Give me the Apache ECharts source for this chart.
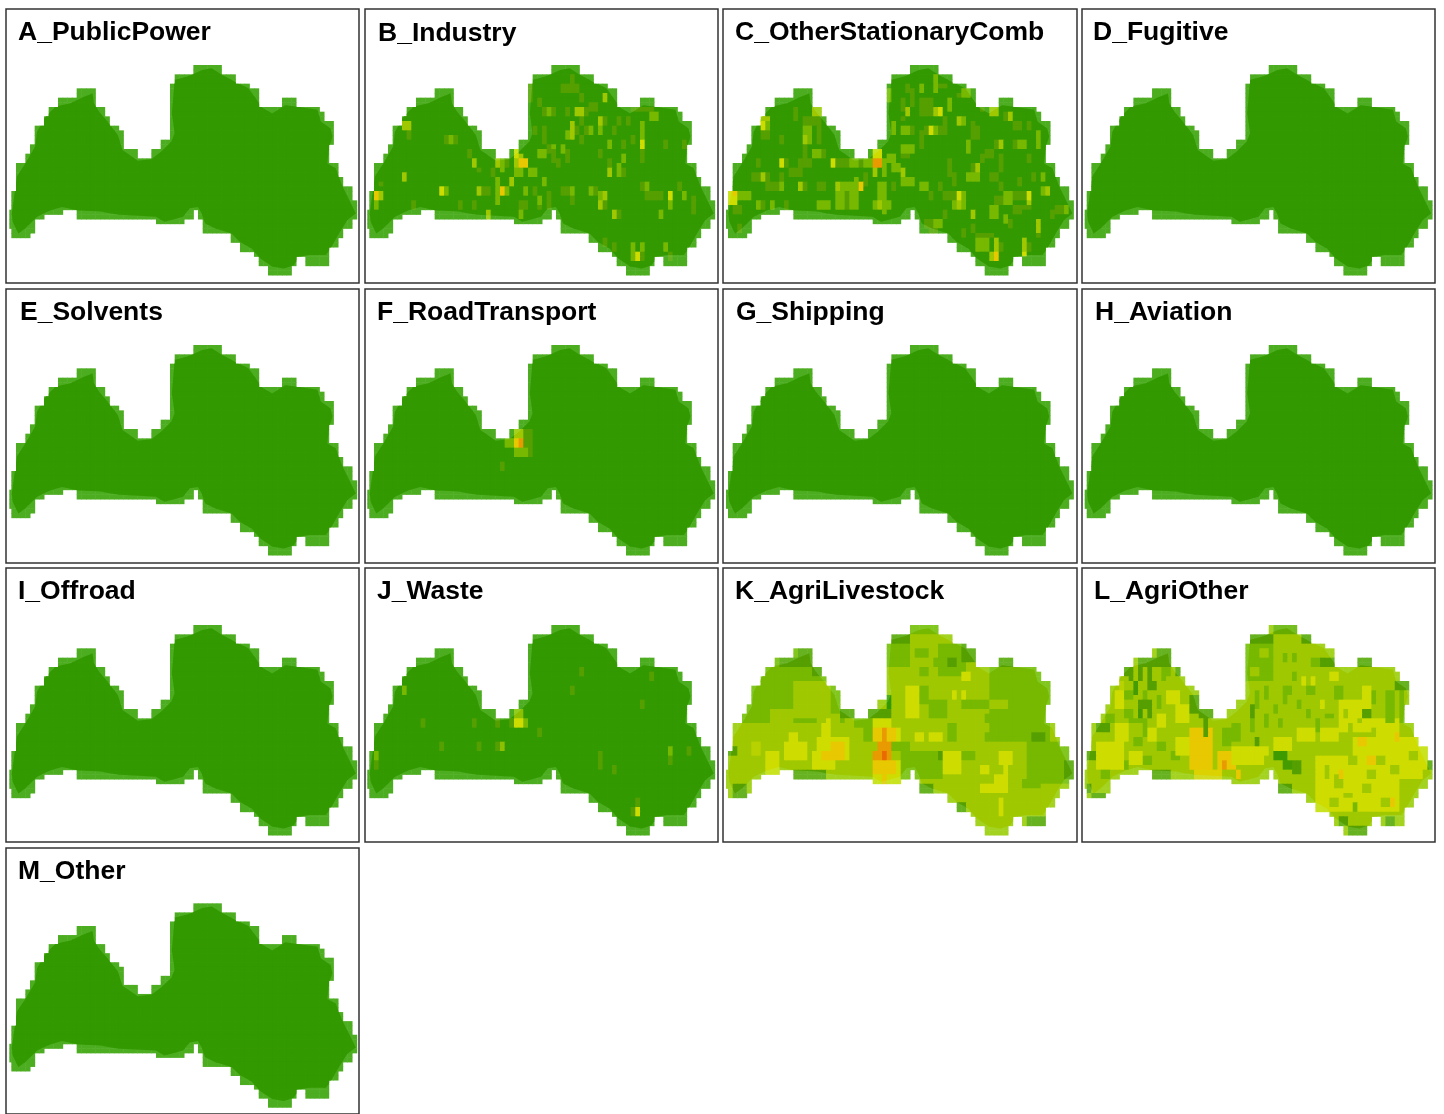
<!DOCTYPE html>
<html><head><meta charset="utf-8">
<style>html,body{margin:0;padding:0;background:#fff;overflow:hidden}#c{width:1444px;height:1114px;filter:blur(.35px)}</style>
<script src="https://cdn.jsdelivr.net/npm/echarts@6/dist/echarts.min.js"></script>
</head><body><div id="c"></div>
<script>
// ---------- data (grid cells: column, row; level: emission class 0..7) ----------
const panelNames = ['A_PublicPower','B_Industry','C_OtherStationaryComb','D_Fugitive','E_Solvents','F_RoadTransport','G_Shipping','H_Aviation','I_Offroad','J_Waste','K_AgriLivestock','L_AgriOther','M_Other'];
const levelColors = ['#339900','#559f00','#77b800','#a0c800','#cfdc00','#e8c800','#e89a00','#e86a00'];
// occupied grid columns, one list of [from,to) spans per row
const landSpans = [
[[40,46]],[[40,46]],[[36,49]],[[36,49]],[[35,52]],[[15,19],[35,54]],[[15,19],[35,54]],
[[11,19],[35,54],[59,62]],[[11,19],[35,54],[59,62]],[[9,21],[35,67]],[[9,21],[35,68]],[[8,22],[35,68]],
[[8,22],[35,70]],[[6,24],[35,70]],[[6,25],[35,70]],[[6,25],[35,70]],[[6,25],[33,70]],[[5,25],[33,69]],
[[5,28],[31,69]],[[4,28],[31,69]],[[4,69]],[[2,71]],[[2,71]],[[2,71]],[[2,72]],[[2,72]],[[2,74]],
[[1,74]],[[1,74]],[[1,75]],[[1,75]],[[0,12],[15,40],[41,75]],[[0,8],[15,40],[41,75]],
[[0,6],[32,38],[42,74]],[[0,6],[42,74]],[[1,6],[42,72]],[[1,5],[48,72]],[[48,71]],[[50,71]],
[[50,69]],[[53,69]],[[54,62],[64,69]],[[54,62],[64,69]],[[56,61]],[[56,61]]];
// country outline in grid units
const countryOutline = [[17.8,6.1],[18.1,8.2],[19.2,10],[21,12.1],[23.2,15],[24.2,18.2],[27.5,20.5],[30.4,20.2],[32.5,18.6],[34.7,16.4],[35.4,14.6],[34.8,10.4],[35.4,3.2],[38.3,2.4],[41.2,1.1],[43.3,.7],[45.5,2.1],[48.3,3.6],[51.2,5],[53,7.5],[54.1,9.1],[56.3,10.4],[59.1,8.6],[61.3,8.9],[66,9.6],[66.7,12.1],[68.8,13.6],[69.2,15.4],[68.5,17.5],[68.1,21.1],[69.9,22.1],[71.4,26.1],[72.8,28.9],[74.2,31.8],[72.4,33.2],[70.6,36.1],[68.8,39.3],[67.8,40.7],[64.2,40.7],[62,41.1],[60.9,42.9],[58.8,43.6],[56.3,43.2],[53.7,41.4],[51.9,39.3],[49.4,37.9],[47.6,36.1],[44,35],[41.9,33.9],[41.2,31.8],[40.4,30.4],[38.6,30.7],[37.2,32.5],[33.2,33.6],[31.4,32.5],[23.9,32.1],[21.7,31.8],[19.6,31.4],[14.5,31.1],[11.3,30.4],[8.8,31.1],[5.9,32.5],[3.4,35],[1.9,36.1],[.7,33.6],[.5,31.8],[1.2,26.8],[1.6,23.9],[3.4,21.1],[5.5,17.5],[5.9,14.3],[7.7,11.1],[9.9,8.9],[13.1,8.2],[16,6.8]]
  .map(p=>[p[0]+.6,p[1]]);
// per-panel deviations from the base level: [col0,row0,col1,row1,level]
const cellsB = [[8,12,10,14,3],[9,14,10,16,1],[17,15,20,17,1],[18,15,19,17,2],[22,18,23,20,1],[23,20,24,22,3],[24,22,25,23,1],[8,23,9,25,3],[3,25,4,26,1],[2,27,3,29,5],[3,27,4,29,3],[2,29,3,31,2],[10,29,11,31,1],[16,26,17,28,4],[17,26,18,28,2],[20,29,21,31,1],[23,29,24,31,1],[24,26,25,28,3],[25,26,27,28,1],[29,26,30,28,5],[28,24,29,30,2],[30,26,31,28,2],[28,20,29,22,3],[29,20,30,23,2],[30,20,31,22,1],[27,22,28,24,1],[31,24,32,26,3],[32,22,34,24,2],[32,18,33,20,4],[33,19,34,20,3],[32,20,33,22,3],[33,20,35,22,5],[35,22,37,24,2],[37,18,39,20,2],[39,17,40,19,1],[40,17,41,19,2],[42,17,43,19,2],[40,18,41,21,1],[43,18,44,21,1],[41,20,42,22,1],[38,24,39,26,2],[36,26,37,28,1],[34,26,35,28,2],[37,28,38,30,2],[39,27,40,31,1],[37,30,38,31,1],[33,29,35,31,1],[33,31,34,33,2],[26,31,27,33,3],[42,26,44,28,1],[44,26,45,28,2],[44,28,45,30,1],[48,26,49,28,2],[49,26,50,28,1],[51,27,52,29,3],[50,29,51,31,3],[50,27,51,29,2],[51,29,52,31,1],[53,31,54,33,3],[54,31,55,33,1],[60,25,61,27,2],[59,25,60,27,1],[60,27,64,29,1],[65,27,66,29,4],[65,29,66,31,2],[67,25,68,27,1],[68,27,69,29,2],[70,28,71,32,1],[63,31,64,33,2],[58,40,59,42,4],[57,38,58,42,2],[59,38,60,40,2],[59,40,60,42,1],[64,38,65,40,2],[65,40,66,42,1],[53,38,54,40,1],[51,37,52,39,1],[42,4,43,6,1],[44,2,45,6,1],[43,4,46,6,1],[46,6,47,8,1],[51,6,52,8,3],[48,8,50,10,1],[37,7,38,9,1],[35,4,36,8,1],[45,9,47,11,3],[47,9,48,11,1],[43,9,44,11,1],[39,9,40,11,2],[38,9,39,11,1],[40,9,41,11,1],[50,11,51,13,3],[51,11,52,13,1],[46,11,47,13,1],[44,12,45,16,3],[43,14,44,16,2],[45,13,46,15,1],[46,15,47,17,1],[47,13,48,15,1],[48,13,49,15,2],[50,13,51,15,2],[53,13,54,15,1],[54,11,55,13,1],[56,11,57,13,1],[36,13,37,15,1],[38,13,39,17,1],[59,16,60,18,4],[59,12,60,16,2],[59,18,60,21,1],[57,15,58,17,1],[52,16,53,18,2],[55,16,56,18,1],[50,18,51,20,1],[52,20,53,22,1],[55,19,56,21,2],[52,22,53,24,3],[54,21,55,24,2],[55,22,56,24,1],[64,16,65,18,1],[68,16,69,18,1],[61,10,63,12,2],[57,9,62,10,1]];
const cellsC = [[8,11,10,12,3],[8,12,9,14,4],[9,12,10,14,2],[8,14,10,16,1],[15,9,16,12,1],[19,9,21,11,3],[17,11,21,13,1],[17,13,19,15,2],[17,15,18,17,3],[18,15,19,17,2],[17,17,18,19,1],[12,15,13,17,1],[20,13,21,17,1],[19,18,21,20,2],[21,18,22,20,1],[12,20,13,22,4],[7,20,8,22,1],[13,20,14,22,1],[16,20,19,22,1],[17,18,18,20,1],[23,20,24,22,4],[24,20,27,22,1],[27,20,29,22,2],[29,20,30,22,1],[30,20,32,22,2],[32,20,34,22,6],[32,18,34,20,4],[32,22,33,24,3],[34,20,35,24,2],[35,19,37,21,2],[36,21,38,23,2],[38,22,39,24,3],[14,22,17,24,1],[6,23,8,25,1],[8,23,9,25,3],[9,23,10,25,1],[12,23,13,25,1],[1,27,3,30,4],[2,27,3,28,5],[3,27,6,29,2],[9,25,12,27,1],[12,25,13,27,2],[16,25,17,27,3],[17,25,18,27,1],[20,25,22,27,1],[7,29,8,31,2],[8,29,9,31,1],[10,29,11,31,2],[13,29,14,31,1],[2,30,4,32,1],[3,34,4,36,1],[20,29,23,31,2],[24,25,25,27,3],[25,25,27,27,2],[29,25,30,27,5],[27,25,29,27,2],[24,27,26,31,2],[26,27,27,31,1],[27,27,28,31,2],[28,24,29,31,2],[30,23,31,26,1],[33,25,34,29,2],[34,25,35,32,2],[33,29,34,31,3],[32,29,33,31,2],[35,29,36,31,2],[36,25,37,27,1],[38,24,41,26,2],[38,17,41,19,2],[42,14,43,18,1],[38,19,40,20,1],[42,25,44,27,2],[44,27,45,29,1],[46,25,47,27,1],[47,27,50,29,1],[50,27,51,29,4],[49,29,50,31,2],[50,29,51,31,3],[51,27,52,31,2],[53,31,54,33,3],[47,31,48,33,1],[43,33,45,35,1],[45,33,47,35,2],[44,35,46,36,1],[48,20,49,24,1],[49,23,50,26,1],[52,23,55,25,2],[54,21,55,23,3],[53,21,54,23,1],[55,19,56,21,1],[59,19,60,23,1],[59,16,60,18,3],[58,16,59,18,1],[56,18,58,20,1],[52,16,53,19,2],[57,23,59,25,1],[45,2,46,6,2],[42,4,43,6,2],[46,4,48,5,1],[39,4,40,6,1],[35,5,36,8,2],[40,5,41,9,1],[48,7,49,10,2],[51,5,53,7,2],[50,6,51,7,1],[39,9,40,11,3],[42,7,45,11,1],[45,9,46,11,3],[46,9,47,11,4],[38,7,39,10,1],[50,11,51,13,3],[51,11,52,13,2],[47,11,48,13,1],[44,13,45,15,4],[45,13,46,15,2],[46,13,48,15,1],[43,13,44,15,1],[36,12,37,15,2],[38,11,39,12,1],[38,13,40,15,2],[40,13,41,15,1],[55,9,56,10,1],[57,9,59,11,3],[61,10,62,12,3],[60,10,61,12,1],[62,12,64,14,1],[65,12,66,14,1],[54,13,55,16,1],[53,12,54,16,1],[63,16,65,18,2],[67,14,68,18,2],[62,16,63,18,1],[65,19,66,21,1],[68,23,69,25,2],[63,24,64,26,1],[66,23,67,25,1],[65,27,66,29,4],[65,29,66,31,3],[69,26,70,28,3],[68,26,69,28,2],[60,27,62,30,2],[62,27,65,29,1],[59,25,60,27,1],[58,28,60,30,1],[57,30,59,33,2],[60,32,61,34,2],[62,30,64,32,1],[64,30,66,31,1],[73,30,74,32,2],[71,30,73,32,1],[67,33,68,36,3],[67,36,68,37,1],[70,31,71,33,1],[54,37,57,40,2],[58,37,59,40,3],[58,40,59,42,5],[57,40,58,42,3],[64,37,65,40,3],[64,40,65,41,4],[54,36,58,37,1],[65,38,66,40,1],[59,38,60,40,1],[61,33,62,35,1],[53,34,54,36,1],[51,35,52,37,1]];
const cellsF = [[33,20,34,22,6],[32,20,33,22,5],[34,20,35,22,4],[30,20,32,22,2],[32,18,34,20,3],[34,18,36,24,1],[32,22,35,24,2],[29,25,30,27,1]];
const cellsJ = [[8,13,9,15,2],[12,20,13,22,1],[23,20,24,22,1],[28,20,29,22,1],[32,18,34,20,2.5],[32,20,34,22,4],[34,20,35,22,2],[31,20,32,22,1],[37,22,38,24,1],[16,25,17,27,1],[24,25,25,27,1],[28,25,29,27,1],[29,25,30,27,2.5],[2,27,3,29,2],[2,29,3,31,1],[46,9,47,11,1],[44,13,45,15,1],[61,10,62,12,1],[59,16,60,18,1],[50,27,51,29,1],[50,29,51,31,1],[53,30,54,32,1],[65,26,66,28,2],[65,28,66,30,1],[69,26,70,28,1],[58,39,59,41,4],[57,39,58,41,1],[58,37,59,39,1]];
const cellsK = [[0,4,26,21,2],[15,12,23,20,3],[16,20,20,21,2],[10,18,15,21,3],[20,19,25,21,3],[13,25,18,29,4],[14,23,16,25,4],[6,25,8,28,3.5],[9,27,12,31,4],[20,24,27,29,4],[19,27,24,31,4],[22,20,23,23,4],[21,21,23,24,4],[23,25,26,29,5],[21,27,24,29,5],[28,20,30,22,2],[30,20,32,25,2],[32,20,36,22,4],[32,22,37,25,5],[37,22,38,25,4],[34,22,35,25,6],[36,25,40,27,2],[33,25,36,27,6],[32,27,36,29,6],[34,27,35,29,7],[38,27,47,33,2],[36,27,38,29,3],[32,29,37,32,5],[37,29,38,32,4],[32,32,38,34,4],[34,32,35,34,5],[35,3,40,7,2],[35,7,40,9,2],[45,7,49,9,2],[41,5,44,7,2],[42,9,44,11,2],[46,4,52,11,2],[48,7,50,9,1],[41,13,44,17,2],[44,16,48,20,2],[39,13,42,20,4],[51,10,53,12,4],[49,14,50,16,4],[51,14,52,16,4],[41,23,43,25,4],[44,23,47,25,4],[57,9,70,25,2],[51,16,57,18,2],[57,16,61,18,3],[65,25,75,34,2],[66,23,69,25,1],[47,27,51,32,4],[55,30,57,32,4],[59,27,62,30,4],[60,30,61,32,4],[55,34,61,36,4],[58,32,61,34,4],[59,37,60,41,4],[51,27,54,29,2],[46,27,47,29,1],[64,33,68,35,2],[48,21,50,25,2],[56,19,57,21,2],[56,23,57,25,2],[16,5,20,7,1],[12,7,20,9,1],[19,9,22,11,1],[25,18,28,20,1],[31,18,36,20,1],[35,15,36,18,0],[36,2,40,4,1],[40,0,47,2,2],[51,3,55,8,1],[59,7,62,9,1],[15,31,22,33,1],[22,31,31,33,3],[9,31,12,33,4],[42,34,45,36,1],[50,38,52,40,1],[65,41,70,43,1],[56,43,61,45,3],[73,29,75,33,1],[71,21,72,23,1],[2,34,5,37,1],[1,26,3,28,1]];
const cellsL = [[58,24,75,33,4],[50,28,68,40,4],[55,16,62,23,4],[63,20,68,25,4],[41,24,45,27,4],[46,22,50,25,4],[51,22,55,25,4],[60,13,62,16,4],[62,20,64,22,4],[53,10,55,12,4],[47,11,48,13,4],[49,11,50,13,4],[51,16,52,18,4],[56,18,57,20,3],[59,20,60,21,3],[57,21,58,23,3],[54,32,56,35,3],[53,37,55,39,3],[61,31,63,33,3],[66,30,68,32,3],[68,33,71,35,3],[73,31,75,33,3],[60,34,62,36,3],[63,28,65,30,3],[57,28,59,30,3],[52,30,53,33,3],[70,27,72,29,3],[58,38,59,40,2],[56,36,58,37,3],[64,37,66,39,3],[59,24,61,26,5],[67,23,68,25,5],[61,28,63,30,5],[55,31,56,33,5],[66,37,67,39,5],[65,14,67,21,2],[68,15,69,21,2],[67,17,68,20,3],[62,14,63,17,2],[68,11,69,15,2],[54,13,56,16,2],[60,18,62,20,1],[35,4,41,12,2],[38,5,40,7,3],[36,9,38,11,3],[43,6,44,8,2],[45,6,46,8,2],[43,13,45,15,2],[49,7,51,9,2],[51,7,54,9,1],[43,15,44,17,2],[46,16,47,18,2],[48,18,49,20,2],[50,20,51,23,2],[41,17,42,19,2],[39,13,40,16,2],[48,13,50,15,2],[52,19,54,20,2],[42,20,43,22,2],[45,10,46,12,2],[39,19,40,22,2],[37,14,38,18,2],[36,19,37,23,2],[10,9,11,12,1],[12,9,13,12,1],[14,9,15,14,1],[11,12,12,15,.5],[15,12,16,14,1],[12,16,15,18,1],[14,17,15,20,1],[12,18,13,20,.5],[8,12,9,14,3.5],[17,9,19,12,2],[5,19,7,21,2],[9,18,11,20,2],[9,14,11,16,2],[13,14,14,16,2],[16,15,17,18,2],[18,11,20,13,3],[10,20,13,21,2],[13,20,14,24,2],[11,24,13,26,2],[16,25,18,27,2],[6,31,8,33,3],[19,27,21,29,2],[13,28,15,30,2],[9,29,10,31,2],[4,31,6,33,2],[18,14,21,17,4],[7,14,9,18,4],[16,19,18,22,4],[20,17,23,21,4],[7,21,10,25,4],[3,25,9,31,4],[14,22,16,25,4],[20,24,24,28,4],[10,27,13,30,4],[10,22,13,24,3],[23,22,28,31,5],[29,27,33,31,5],[30,29,31,31,6],[33,31,34,33,5],[24,31,30,33,4.5],[26,20,27,24,1],[23,15,25,19,1],[30,22,32,26,2],[32,21,34,25,2],[37,24,38,26,1],[36,17,37,20,1],[32,26,40,30,4],[39,28,41,30,3],[41,27,44,29,.3],[43,29,45,31,.5],[45,29,47,32,1],[16,5,20,7,1],[12,7,20,9,1],[9,9,11,11,1],[20,9,22,11,1],[25,18,28,20,1],[36,2,41,4,1],[41,0,47,2,1.5],[47,2,50,4,1],[59,7,62,9,1],[15,31,19,33,1],[42,34,45,36,1],[55,41,57,43,1],[57,43,62,45,1],[65,41,67,43,1],[2,36,5,38,1],[1,34,2,36,1],[1,27,3,29,1],[3,21,6,23,1],[67,12,70,14,1],[74,29,75,31,1]];
const panelCells = {B:cellsB,C:cellsC,F:cellsF,J:cellsJ,K:cellsK,L:cellsL};
const panelBase = {K:3,L:3};
// ---------- layout ----------
const boxLefts = [6,365,723,1082], boxWidths=[353,353,354,353], boxTops=[9,289,568,848], boxH=274;
const mapLefts = [9.33,367.3,726,1084.7], mapTops=[65,345,625,905];
const titleX = [18,378,735,1093,20,377,736,1095,18,377,735,1094,18];
const titleY = [31,32,31,31,311,311,311,311,590,590,590,590,870];
const cellW = 4.667, cellH = 4.667, firstCol = .57;

function inside(pt,poly){let c=false;for(let i=0,j=poly.length-1;i<poly.length;j=i++){const a=poly[i],b=poly[j];
  if((a[1]>pt[1])!==(b[1]>pt[1])&&pt[0]<(b[0]-a[0])*(pt[1]-a[1])/(b[1]-a[1])+a[0])c=!c;}return c;}
const fullyInside = new Set();
landSpans.forEach((sp,r)=>sp.forEach(s=>{for(let c=s[0];c<s[1];c++){
  if([[c-.2,r-.2],[c+1.2,r-.2],[c-.2,r+1.2],[c+1.2,r+1.2]].every(p=>inside(p,countryOutline)))fullyInside.add(c+','+r);}}));
function panelData(key){
  const base=panelBase[key]||0, m={};
  landSpans.forEach((sp,r)=>sp.forEach(s=>{for(let c=s[0];c<s[1];c++)m[c+','+r]=base;}));
  (panelCells[key]||[]).forEach(p=>{for(let r=p[1];r<p[3];r++)for(let c=p[0];c<p[2];c++){const k=c+','+r;if(k in m)m[k]=p[4];}});
  return Object.keys(m).map(k=>{const a=k.split(',').map(Number);return [a[0],a[1],m[k]];});
}
function rectOf(api,c,r){
  const p0=api.coord([Math.max(c,firstCol),r]),p1=api.coord([c+1,r+1]);
  return {x:p0[0],y:p0[1],width:p1[0]-p0[0]+.5,height:p1[1]-p0[1]+.5};
}
function outerCell(params,api){
  const c=api.value(0),r=api.value(1);
  return {type:'rect',shape:rectOf(api,c,r),style:{fill:echarts.color.lerp(.2,[api.visual('color'),'#b0ffa0'])}};
}
function innerCell(params,api){
  const c=api.value(0),r=api.value(1);
  const el={type:'rect',shape:rectOf(api,c,r),style:{fill:api.visual('color')}};
  if(!fullyInside.has(c+','+r)) el.clipPath={type:'polygon',shape:{points:countryOutline.map(p=>api.coord(p))}};
  return el;
}
const grid=[],xAxis=[],yAxis=[],series=[],title=[];
panelNames.forEach((name,i)=>{
  const col=i%4,row=Math.floor(i/4),key=name[0];
  const bl=boxLefts[col],bt=boxTops[row],bw=boxWidths[col];
  grid.push({left:bl,top:bt,width:bw,height:boxH,show:true,borderColor:'#333',borderWidth:1.5,backgroundColor:'#fff'});
  const x0=firstCol+(bl-mapLefts[col])/cellW, y0=(bt-mapTops[row])/cellH;
  xAxis.push({type:'value',gridIndex:i,min:x0,max:x0+bw/cellW,show:false,splitLine:{show:false}});
  yAxis.push({type:'value',gridIndex:i,min:y0,max:y0+boxH/cellH,inverse:true,show:false,splitLine:{show:false}});
  const data=panelData(key);
  series.push({type:'custom',name:name,coordinateSystem:'cartesian2d',xAxisIndex:i,yAxisIndex:i,data:data,renderItem:outerCell,silent:true,animation:false,encode:{x:0,y:1},clip:false,z:2});
  series.push({type:'custom',name:name+' land',coordinateSystem:'cartesian2d',xAxisIndex:i,yAxisIndex:i,data:data,renderItem:innerCell,silent:true,animation:false,encode:{x:0,y:1},clip:false,z:3});
  title.push({text:name,left:titleX[i],top:titleY[i]-12,padding:0,textStyle:{fontFamily:'"Liberation Sans",Arial,sans-serif',fontWeight:'bold',fontSize:26.5,color:'#000',lineHeight:28}});
});
const chart=echarts.init(document.getElementById('c'),null,{renderer:'canvas',width:1444,height:1114});
chart.setOption({animation:false,backgroundColor:'#fff',title,grid,xAxis,yAxis,series,
  visualMap:{type:'continuous',show:false,min:0,max:7,dimension:2,seriesIndex:series.map((s,i)=>i),inRange:{color:levelColors}}});
</script></body></html>
